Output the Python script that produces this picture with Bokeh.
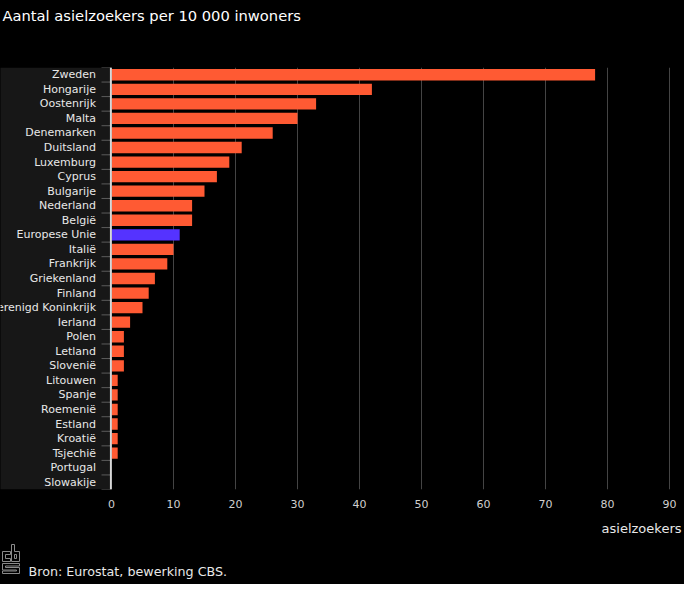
from bokeh.plotting import figure
from bokeh.layouts import column
from bokeh.models import ColumnDataSource, FixedTicker, Range1d, Span
from bokeh.core.properties import value
from bokeh.embed import file_html
from bokeh.resources import INLINE

# ---- data ----
countries = ["Zweden", "Hongarije", "Oostenrijk", "Malta", "Denemarken", "Duitsland",
             "Luxemburg", "Cyprus", "Bulgarije", "Nederland", "België", "Europese Unie",
             "Italië", "Frankrijk", "Griekenland", "Finland", "Verenigd Koninkrijk",
             "Ierland", "Polen", "Letland", "Slovenië", "Litouwen", "Spanje", "Roemenië",
             "Estland", "Kroatië", "Tsjechië", "Portugal", "Slowakije"]
values = [78, 42, 33, 30, 26, 21, 19, 17, 15, 13, 13, 11, 10, 9, 7, 6, 5, 3, 2, 2, 2,
          1, 1, 1, 1, 1, 1, 0, 0]
highlight = "Europese Unie"
x_ticks = [0, 10, 20, 30, 40, 50, 60, 70, 80, 90]
title_text = "Aantal asielzoekers per 10 000 inwoners"
axis_title = "asielzoekers"
source_text = "Bron: Eurostat, bewerking CBS."

# ---- styling ----
BAR = "#ff5a33"
BAR_HI = "#5533ff"
FONT = "DejaVu Sans"
BG = {"background-color": "#000000"}
W = 684
HEAD_H, MAIN_H, FOOT_H = 67, 450, 67
FRAME_H = 422
zero_px = 111
px_per_unit = 6.2


def bare(fig):
    fig.background_fill_color = "black"
    fig.border_fill_color = "black"
    fig.outline_line_color = None
    fig.xgrid.visible = False
    fig.ygrid.visible = False
    return fig


# ---- header ----
head = bare(figure(width=W, height=HEAD_H, output_backend="svg", toolbar_location=None,
                   x_range=Range1d(0, W), y_range=Range1d(HEAD_H, 0),
                   x_axis_location=None, y_axis_location=None,
                   min_border=0, styles=BG))
head.text(x=[2], y=[15], text=[title_text], text_font=value(FONT), text_font_size="14.7px",
          text_color="white", text_baseline="alphabetic", text_align="left")

# ---- main chart ----
n = len(countries)
x_start = (0 - zero_px) / px_per_unit
x_end = (W - zero_px) / px_per_unit
y_top, y_bottom = -0.5, n - 0.5


def dx(px):
    return (px - zero_px) / px_per_unit


p = figure(width=W, height=MAIN_H, output_backend="svg", toolbar_location=None,
           x_range=Range1d(x_start, x_end), y_range=Range1d(y_bottom, y_top),
           y_axis_location=None, min_border_left=0, min_border_right=0,
           min_border_top=0, min_border_bottom=MAIN_H - FRAME_H, styles=BG)
p.background_fill_color = "black"
p.border_fill_color = "black"
p.outline_line_color = None
p.ygrid.visible = False
p.xgrid.ticker = FixedTicker(ticks=x_ticks[1:])
p.xgrid.grid_line_color = "#444444"
p.xgrid.grid_line_width = 1

ys = list(range(n))
p.quad(left=x_start - 1, right=dx(109), top=y_top, bottom=y_bottom,
       fill_color="#171717", line_color=None)

bounds = [i - 0.5 for i in range(n + 1)]
p.segment(x0=[dx(zero_px - 10)] * len(bounds), x1=[0] * len(bounds), y0=bounds, y1=bounds,
          line_color="#5c5c5c", line_width=1)

src = ColumnDataSource(dict(y=ys, v=values,
                            c=[BAR_HI if c == highlight else BAR for c in countries]))
p.hbar(y="y", left=0, right="v", height=0.78, fill_color="c", line_color=None, source=src)

p.text(x=[dx(zero_px - 15.5)] * n, y=ys, text=countries, text_font=value(FONT),
       text_font_size="11px", text_align="right", text_baseline="middle", text_color="#e8e8e8")

p.add_layout(Span(location=-0.1, dimension="height", line_color="#d8d8d8", line_width=2))

ax = p.xaxis[0]
ax.ticker = FixedTicker(ticks=x_ticks)
ax.axis_line_color = None
ax.major_tick_line_color = None
ax.minor_tick_line_color = None
ax.major_tick_out = 0
ax.major_tick_in = 0
ax.major_label_standoff = 10
ax.major_label_text_font = FONT
ax.major_label_text_font_size = "11px"
ax.major_label_text_color = "#d0d0d0"

# ---- footer ----
foot = bare(figure(width=W, height=FOOT_H, output_backend="svg", toolbar_location=None,
                   x_range=Range1d(0, W), y_range=Range1d(FOOT_H, 0),
                   x_axis_location=None, y_axis_location=None,
                   min_border=0, styles=BG))
foot.text(x=[681], y=[11], text=[axis_title], text_font=value(FONT), text_font_size="13px",
          text_color="#e8e8e8", text_baseline="alphabetic", text_align="right")
foot.text(x=[28], y=[54], text=[source_text], text_font=value(FONT), text_font_size="12.7px",
          text_color="#e8e8e8", text_baseline="alphabetic", text_align="left")

# CBS logo (outlined letters), shapes in footer pixels
ox, oy = 8, 525
logo_shapes = [
    [(10, 559), (18, 559), (18, 562), (13, 562), (13, 566), (18, 566), (18, 569), (10, 569)],
    [(19, 552), (22, 552), (22, 559), (27, 559), (27, 569), (19, 569)],
    [(22, 562), (24, 562), (24, 566), (22, 566)],
    [(10, 571), (27, 571), (27, 573.5), (13, 573.5), (13, 575), (27, 575), (27, 581),
     (10, 581), (10, 578.5), (24, 578.5), (24, 577.5), (10, 577.5)],
]
foot.patches(xs=[[a - ox for a, b in s] for s in logo_shapes],
             ys=[[b - oy for a, b in s] for s in logo_shapes],
             fill_color=None, fill_alpha=0, line_color="#8a8a8a", line_width=1)

layout = column(head, p, foot, spacing=0, styles=BG)
open("out.html", "w").write(file_html(layout, INLINE))
